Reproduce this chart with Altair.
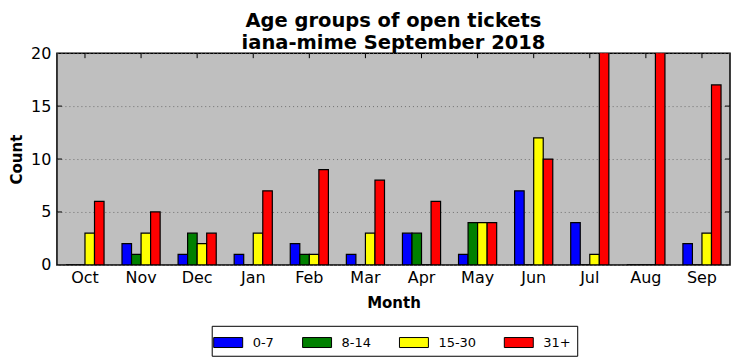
import altair as alt
import pandas as pd

months = ["Oct", "Nov", "Dec", "Jan", "Feb", "Mar", "Apr", "May", "Jun", "Jul", "Aug", "Sep"]
groups = ["0-7", "8-14", "15-30", "31+"]
colors = ["#0000ff", "#008000", "#ffff00", "#ff0000"]
age_0_7 = [0, 2, 1, 1, 2, 1, 3, 1, 7, 4, 0, 2]
age_8_14 = [0, 1, 3, 0, 1, 0, 3, 4, 0, 0, 0, 0]
age_15_30 = [3, 3, 2, 3, 1, 3, 0, 4, 12, 1, 0, 3]
age_31_plus = [6, 5, 3, 7, 9, 8, 6, 4, 10, 22, 23, 17]
y_ticks = [0, 5, 10, 15, 20]

rows = []
for g, vals in zip(groups, [age_0_7, age_8_14, age_15_30, age_31_plus]):
    for m, v in zip(months, vals):
        rows.append({"Month": m, "Group": g, "Count": v})
df = pd.DataFrame(rows)

W, H = 674, 212
FONT = "DejaVu Sans"

xscale = alt.Scale(domain=months, paddingInner=0.32, paddingOuter=0.16)
yscale = alt.Scale(domain=[0, 20], nice=False)

bars = alt.Chart(df).mark_bar(stroke="black", strokeWidth=1.2, clip=True).encode(
    x=alt.X("Month:N", sort=months, scale=xscale,
            axis=alt.Axis(title="Month", labelAngle=0, ticks=False, domain=False,
                          labelFontSize=16, labelPadding=5, titleFontSize=15,
                          titleFontWeight="bold", titlePadding=10, labelColor="black",
                          titleColor="black", labelFont=FONT, titleFont=FONT)),
    xOffset=alt.XOffset("Group:N", sort=groups, scale=alt.Scale(domain=groups, paddingInner=0, paddingOuter=0)),
    y=alt.Y("Count:Q", scale=yscale,
            axis=alt.Axis(title="Count", values=y_ticks, ticks=False, domain=False,
                          grid=True, gridDash=[1, 3], gridColor="#707070",
                          labelFontSize=16, labelPadding=6, titleFontSize=15,
                          titleFontWeight="bold", titlePadding=6, labelColor="black",
                          titleColor="black", labelFont=FONT, titleFont=FONT)),
    color=alt.Color("Group:N", sort=groups, scale=alt.Scale(domain=groups, range=colors),
                    legend=alt.Legend(title=None, orient="none", legendX=155, legendY=273,
                                      direction="horizontal", columns=4,
                                      symbolType="M-1.45,-0.5h2.9v1h-2.9z",
                                      symbolSize=400, symbolStrokeColor="black",
                                      symbolStrokeWidth=1, symbolOpacity=1,
                                      labelOffset=14, labelFontSize=13, labelFont=FONT,
                                      labelColor="black", strokeColor="black",
                                      padding=6, columnPadding=26)),
)

tick_df = pd.DataFrame({"Month": months})
top_ticks = alt.Chart(tick_df).mark_rule(color="black", strokeWidth=1).encode(
    x=alt.X("Month:N", sort=months, scale=xscale),
    y=alt.value(0), y2=alt.value(5),
)

ytick_df = pd.DataFrame({"v": [5, 10, 15]})
left_ticks = alt.Chart(ytick_df).mark_rule(color="black", strokeWidth=1).encode(
    y=alt.Y("v:Q", scale=yscale), x=alt.value(0), x2=alt.value(5),
)
right_ticks = alt.Chart(ytick_df).mark_rule(color="black", strokeWidth=1).encode(
    y=alt.Y("v:Q", scale=yscale), x=alt.value(W - 5), x2=alt.value(W),
)

chart = alt.layer(bars, top_ticks, left_ticks, right_ticks).properties(
    width=W, height=H,
    title=alt.TitleParams(text=["Age groups of open tickets", "iana-mime September 2018"],
                          fontSize=19.5, font=FONT, fontWeight="bold", color="black",
                          anchor="middle", offset=-8, lineHeight=22),
).configure(
    background="white",
    padding={"left": 1, "top": 2, "right": 3, "bottom": 0},
    view=alt.ViewConfig(fill="#bfbfbf", stroke="black", strokeWidth=1.5),
)

chart.save("out.html", embed_options={"renderer": "svg", "actions": False})
